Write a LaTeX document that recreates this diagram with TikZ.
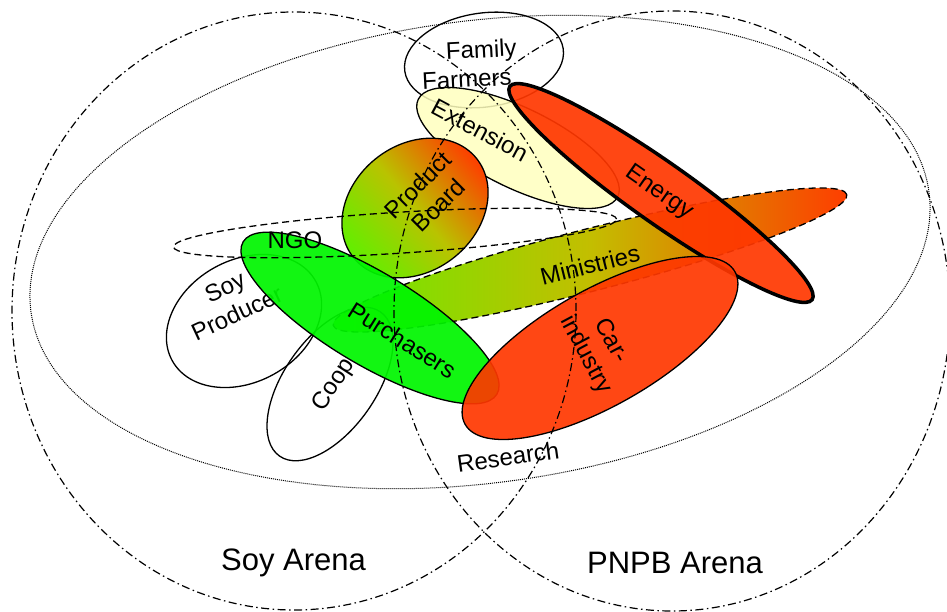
\documentclass[tikz,border=0pt]{standalone}
\usepackage{fontspec}
\setmainfont{Liberation Sans}
\definecolor{redfill}{RGB}{255,55,0}
\definecolor{greenfill}{RGB}{0,245,0}
\definecolor{yellowfill}{RGB}{255,255,190}
\definecolor{gradG}{RGB}{105,235,0}
\definecolor{gradM}{RGB}{195,190,0}
\definecolor{gradR}{RGB}{255,60,0}
\definecolor{pbG}{RGB}{95,240,0}
\definecolor{pbM}{RGB}{185,195,0}
\begin{document}
\begin{tikzpicture}[x=1pt,y=-1pt,
  lbl/.style={font=\fontsize{24}{29}\selectfont, align=center, inner sep=0pt},
  arenalbl/.style={font=\fontsize{31}{36}\selectfont, inner sep=0pt},
  thinline/.style={draw=black, line width=1.3pt},
  arena/.style={draw=black, line width=1.2pt, dash pattern=on 8pt off 3.5pt on 1.5pt off 3.5pt},
  dottedring/.style={draw=black, line width=1pt, dash pattern=on 1pt off 1pt},
  dashring/.style={draw=black, line width=1.3pt, dash pattern=on 7pt off 4pt},
]
\useasboundingbox (0,0) rectangle (947,612);
\clip (0,0) rectangle (947,612);

% Ministries
\shade[rotate around={14.3:(590,260)}, left color=gradG, right color=gradR, middle color=gradM]
  (590,260) ellipse [x radius=265pt, y radius=31pt];
\draw[dashring, rotate around={14.3:(590,260)}] (590,260) ellipse [x radius=265pt, y radius=31pt];
\node[lbl, rotate=14] (ministries) at (590,265) {Ministries};

% Family Farmers
\draw[thinline, rotate around={8:(484,60)}] (484,60) ellipse [x radius=80pt, y radius=47pt];

% Extension
\fill[yellowfill, fill opacity=0.85, rotate around={-26:(518,148)}] (518,148) ellipse [x radius=111pt, y radius=40pt];
\draw[thinline, rotate around={-26:(518,148)}] (518,148) ellipse [x radius=111pt, y radius=40pt];
\node[lbl, rotate=-28] (extension) at (480,130) {Extension};
\node[lbl, rotate=3] (family) at (466,64.5) {\hspace*{32pt}Family\\Farmers};

% Product Board
\shade[rotate around={39:(415,208)}, bottom color=pbG, top color=gradR, middle color=pbM, shading angle=-50]
  (415,208) ellipse [x radius=79pt, y radius=63pt];
\draw[thinline, rotate around={39:(415,208)}] (415,208) ellipse [x radius=79pt, y radius=63pt];
\node[lbl, rotate=45] (product) at (428,195) {Product\\Board};

% Soy Producer
\draw[thinline, rotate around={29:(244,321)}] (244,321) ellipse [x radius=82pt, y radius=61pt];
\node[lbl, rotate=25] (soyprod) at (231,300) {Soy\\Producer};

% Coop
\draw[thinline, rotate around={55:(330,384)}] (330,384) ellipse [x radius=88pt, y radius=46pt];
\node[lbl, rotate=57] (coop) at (334,385) {Coop};

% Energy
\fill[redfill, fill opacity=0.92, rotate around={-35.2:(661,193)}] (661,193) ellipse [x radius=185pt, y radius=30pt];
\draw[draw=black, line width=3.5pt, rotate around={-35.2:(661,193)}] (661,193) ellipse [x radius=185pt, y radius=30pt];
\node[lbl, rotate=-35] (energy) at (659,193) {Energy};

% Purchasers
\fill[greenfill, fill opacity=0.93, rotate around={-31:(370,318)}] (370,318) ellipse [x radius=148pt, y radius=46pt];
\draw[thinline, rotate around={-31:(370,318)}] (370,318) ellipse [x radius=148pt, y radius=46pt];
\node[lbl, rotate=-32] (purch) at (403,340) {Purchasers};

% Car-industry
\fill[redfill, fill opacity=0.92, rotate around={29.5:(600,348)}] (600,348) ellipse [x radius=155pt, y radius=58pt];
\draw[thinline, rotate around={29.5:(600,348)}] (600,348) ellipse [x radius=155pt, y radius=58pt];
\node[lbl, rotate=-62] (car) at (598,348) {Car-\\industry};

% NGO
\draw[dashring, rotate around={3.6:(395,233)}] (395,233) ellipse [x radius=222pt, y radius=20.5pt];
\node[lbl] (ngo) at (295,240) {NGO};

% Research
\node[lbl, rotate=8] (research) at (508,457) {Research};

% Arenas
\draw[dottedring, rotate around={7.6:(480,252)}] (480,252) ellipse [x radius=453pt, y radius=231pt];
\draw[arena] (294,311) ellipse [x radius=282pt, y radius=299pt];
\draw[arena] (672,311) ellipse [x radius=278pt, y radius=300pt];
\node[arenalbl] (soyarena) at (293.5,563) {Soy Arena};
\node[arenalbl] (pnpbarena) at (675,563) {PNPB Arena};
\end{tikzpicture}
\end{document}
